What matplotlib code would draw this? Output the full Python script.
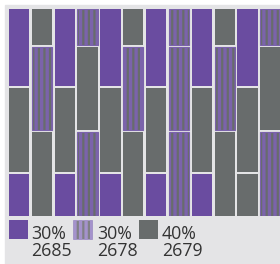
import matplotlib
matplotlib.use("Agg")
import matplotlib.pyplot as plt
from matplotlib.patches import Rectangle

plt.rcParams['hatch.linewidth'] = 2.4

# tile heights in % of a column, bottom to top
heights_a = [21, 41, 38]
heights_b = [41, 41, 18]
col_heights = [heights_a, heights_b] * 6

# tile category per column, bottom to top (P purple, S striped, G gray)
col_cats = [
    ['P', 'G', 'P'],
    ['G', 'S', 'G'],
    ['P', 'G', 'P'],
    ['S', 'G', 'S'],
    ['P', 'G', 'P'],
    ['G', 'S', 'G'],
    ['P', 'G', 'P'],
    ['S', 'S', 'S'],
    ['P', 'G', 'P'],
    ['G', 'S', 'G'],
    ['G', 'G', 'P'],
    ['S', 'G', 'S'],
]

legend_pcts = ['30%', '30%', '40%']
legend_counts = ['2685', '2678', '2679']
legend_cats = ['P', 'S', 'G']

purple = '#6a4ca0'
gray = '#686c6c'
stripe = '#7b63ab'
bg = '#e4e4e6'
gap = 1.0


def tile_style(c):
    if c == 'P':
        return dict(color=purple, linewidth=0)
    if c == 'G':
        return dict(color=gray, linewidth=0)
    return dict(facecolor=gray, edgecolor=stripe, hatch='|||', linewidth=0.8)


fig = plt.figure(figsize=(2.8, 2.64), dpi=100)
fig.patch.set_facecolor('white')
fig.add_artist(Rectangle((5 / 280, 0), 1, 259 / 264, transform=fig.transFigure,
                         color=bg, zorder=0))

ax = fig.add_axes([7.6 / 280, 48 / 264, 274.3 / 280, 207 / 264])
ax.patch.set_visible(False)
for i, (hs, cs) in enumerate(zip(col_heights, col_cats)):
    bottom = 0
    for h, c in zip(hs, cs):
        ax.bar(i, h - gap, bottom=bottom + gap / 2, width=0.89, **tile_style(c))
        bottom += h
ax.set_xlim(-0.5, 11.5)
ax.set_ylim(gap / 2, 100 - gap / 2)
ax.axis('off')

# legend
sq_x = [9, 73, 139]
txt_x = [31, 97, 162]
for sx, tx, c, p, n in zip(sq_x, txt_x, legend_cats, legend_pcts, legend_counts):
    st = tile_style(c)
    if c == 'S':
        st = dict(facecolor='#808086', edgecolor='#a492cc', hatch='|||', linewidth=0.5)
    fig.add_artist(Rectangle((sx / 280, 25.5 / 264), 18.5 / 280, 18.5 / 264,
                             transform=fig.transFigure, **st))
    fig.text(tx / 280, 25 / 264, p, fontsize=12.8, color='#333333', va='baseline',
             family='Open Sans')
    fig.text(tx / 280, 8 / 264, n, fontsize=12.8, color='#333333', va='baseline',
             family='Open Sans')

fig.savefig('out.png', dpi=100)
